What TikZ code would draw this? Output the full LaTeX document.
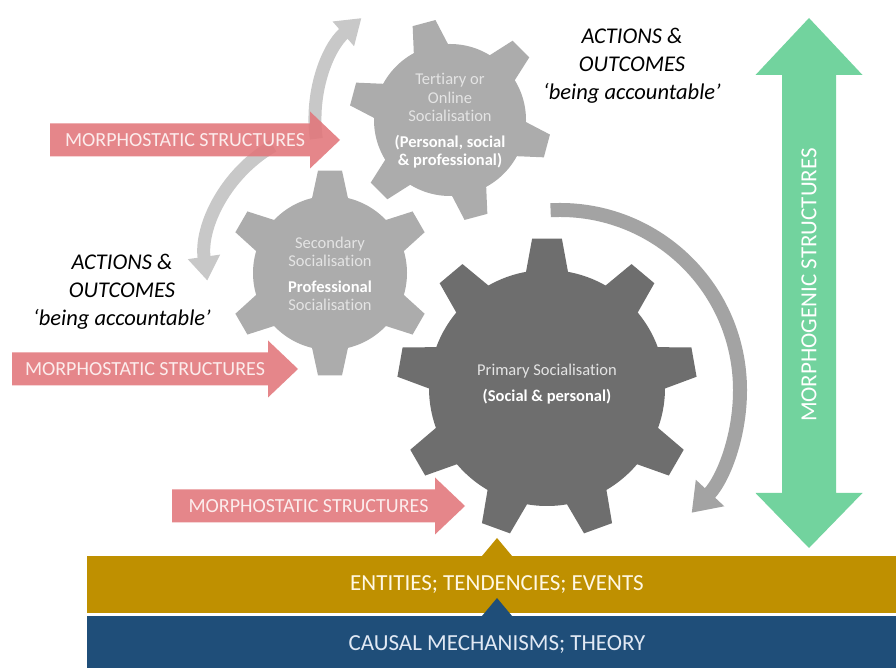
\documentclass[tikz,border=0pt]{standalone}
\usepackage{fontspec}
\setmainfont{Carlito}[Ligatures={TeX,NoCommon}]
\usetikzlibrary{arrows.meta}
\definecolor{gearlight}{RGB}{172,172,172}
\definecolor{geardark}{RGB}{110,110,110}
\definecolor{gearpale}{RGB}{228,228,228}
\definecolor{arclight}{RGB}{200,200,200}
\definecolor{arcdark}{RGB}{163,163,163}
\definecolor{msred}{RGB}{226,118,122}
\definecolor{mspale}{RGB}{252,236,236}
\definecolor{mggreen}{RGB}{114,211,158}
\definecolor{entgold}{RGB}{191,144,0}
\definecolor{entcream}{RGB}{255,248,228}
\definecolor{causblue}{RGB}{31,78,121}
\definecolor{causpale}{RGB}{225,233,244}
\begin{document}
\begin{tikzpicture}[x=1pt,y=1pt,
  msarrow/.style={fill=msred,fill opacity=0.88},
  mstext/.style={text=mspale,font=\fontsize{20}{24}\selectfont},
  geartext/.style={align=center,text=gearpale,font=\fontsize{16.5}{18.5}\selectfont},
  bandtext/.style={font=\fontsize{23}{27}\selectfont},
  acttext/.style={align=center,font=\fontsize{22.5}{28}\selectfont\itshape},
  arcl/.style={draw=arclight,line width=13pt,-{Triangle[length=24pt,width=31pt]}},
  arcd/.style={draw=arcdark,line width=14pt,-{Triangle[length=27pt,width=37pt]}}]
\fill[white] (0,0) rectangle (896,668);
\useasboundingbox (0,0) rectangle (896,668);
\fill[entgold] (87,55) rectangle (896,112);
\fill[entgold] (482,112) -- (497,130) -- (512,112) -- cycle;
\fill[causblue] (87,0) rectangle (896,52);
\fill[causblue] (482,52) -- (497,70) -- (512,52) -- cycle;
\node[bandtext,text=entcream] (ent) at (497,83) {ENTITIES; TENDENCIES; EVENTS};
\node[bandtext,text=causpale] (caus) at (497,23) {CAUSAL MECHANISMS; THEORY};
\coordinate (pc) at (547,280);
\coordinate (sc) at (330,395);
\coordinate (tc) at (450,548);
\coordinate (ra) at (560,278);
\coordinate (la) at (340,406);
\fill[geardark] (pc) circle[radius=118];
\foreach \a in {90,130,...,410}
  \fill[geardark,shift={(pc)}] ({\a-11}:114) -- ({\a-5.7}:150) -- ({\a+5.7}:150) -- ({\a+11}:114) -- cycle;
\fill[gearlight] (sc) circle[radius=77];
\foreach \a in {90,150,...,390}
  \fill[gearlight,shift={(sc)}] ({\a-15}:73) -- ({\a-6.7}:103) -- ({\a+6.7}:103) -- ({\a+15}:73) -- cycle;
\fill[gearlight] (tc) circle[radius=76];
\foreach \a in {105,165,...,405}
  \fill[gearlight,shift={(tc)}] ({\a-15}:72) -- ({\a-6.7}:101) -- ({\a+6.7}:101) -- ({\a+15}:72) -- cycle;
\node[geartext] (prim) at (547,284) {Primary Socialisation\\[8pt]\textcolor{white}{\bfseries (Social \& personal)}};
\node[geartext] (sec) at (330,394) {Secondary\\Socialisation\\[7pt]\textcolor{white}{\bfseries Professional}\\Socialisation};
\node[geartext] (tert) at (450,547) {Tertiary or\\Online\\Socialisation\\[7pt]\textcolor{white}{\bfseries (Personal, social}\\\textcolor{white}{\bfseries \& professional)}};
\draw[arcd] ([shift={(93:180)}]ra) arc[start angle=93,end angle=-43,radius=180];
\draw[arcl] ([shift={(188:135)}]tc) arc[start angle=188,end angle=131,radius=135];
\draw[arcl] ([shift={(120:134)}]la) arc[start angle=120,end angle=188,radius=134];
\foreach \xa/\xb/\yc/\nm in {50/340/528/msa,12/298/299/msb,172/465/162/msc}{
  \fill[msarrow] (\xa,\yc-16.5) -- (\xb-30,\yc-16.5) -- (\xb-30,\yc-28.5) -- (\xb,\yc)
    -- (\xb-30,\yc+28.5) -- (\xb-30,\yc+16.5) -- (\xa,\yc+16.5) -- cycle;
  \node[mstext] (\nm) at ({(\xa+\xb)/2-10},\yc) {MORPHOSTATIC STRUCTURES};
}
\fill[mggreen] (809,650) -- (862.5,593) -- (836,593) -- (836,175) -- (862.5,175) -- (809,120)
  -- (755.5,175) -- (782,175) -- (782,593) -- (755.5,593) -- cycle;
\node[bandtext,text=white,rotate=90] (mg) at (809,383) {MORPHOGENIC STRUCTURES};
\node[acttext] (acta) at (632,602) {ACTIONS \&\\OUTCOMES\\`being accountable'};
\node[acttext] (actb) at (122,376) {ACTIONS \&\\OUTCOMES\\`being accountable'};
\end{tikzpicture}
\end{document}
